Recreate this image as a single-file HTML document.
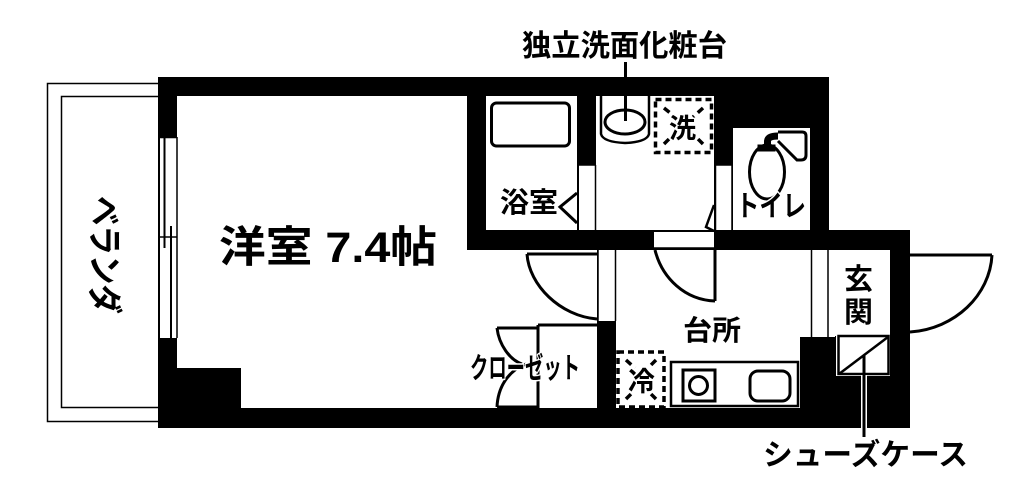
<!DOCTYPE html>
<html><head><meta charset="utf-8"><style>
html,body{margin:0;padding:0;background:#fff}
svg{display:block}
text{font-family:"Liberation Sans","Noto Sans CJK JP",sans-serif;fill:#000;font-weight:700}
.h{paint-order:stroke;stroke:#fff;stroke-width:3px;stroke-linejoin:round}
</style></head><body>
<svg width="1024" height="486" viewBox="0 0 1024 486" xmlns="http://www.w3.org/2000/svg">
<rect width="1024" height="486" fill="#fff"/>
<!-- balcony -->
<rect x="47.5" y="83.5" width="112" height="338" fill="none" stroke="#000" stroke-width="1.5"/>
<rect x="61.5" y="96.5" width="98" height="311" fill="none" stroke="#000" stroke-width="1.5"/>
<!-- walls -->
<path d="M158 77H829V230H910V428H158Z" fill="#000"/>
<!-- rooms -->
<g fill="#fff">
<path d="M177 96H467V250H597V408H241V368H177Z"/>
<rect x="486" y="96" width="91" height="134"/>
<rect x="596" y="96" width="118" height="134"/>
<rect x="733" y="128" width="77" height="102"/>
<path d="M616 250H890V336H835V337H800V408H616Z"/>
<rect x="836" y="335" width="54" height="41"/>
<!-- openings -->
<rect x="160" y="137" width="17" height="201"/>
<rect x="579" y="165" width="16" height="65"/>
<rect x="716" y="165" width="16" height="65"/>
<rect x="654" y="232" width="60" height="16"/>
<rect x="598" y="250" width="18" height="71"/>
</g>
<g fill="none" stroke="#000" stroke-width="1.5">
<!-- window -->
<path d="M159 137.500V338M177 137V338M159 137.500H177"/>
<path d="M159 237H177"/>
<path d="M164.500 138V248M171 226V338" stroke-width="2"/>
<path d="M578 165V230M595.500 165V230M579 165H595M715.500 165V230M732 165V230M716 165H732"/>
<path d="M598 250V321M615.500 250V321M654 248H714"/>
<path d="M811.500 250V337M828 250V337"/>
<g stroke-width="3">
<!-- bath -->
<rect x="491.500" y="103" width="78" height="43" rx="5"/>
<!-- bath door -->
<path d="M577 193L560 207L577 223"/>
<!-- toilet door -->
<path d="M714 205L706 227L714 231" stroke-width="2.500"/>
<!-- sink -->
<ellipse cx="625" cy="122" rx="20" ry="12"/>
<path d="M601 96V134Q603 142 625 143Q647 142 649 134V96" stroke-width="2.500"/>
<!-- toilet -->
<path d="M778 132H802Q806 132 806 136V155Q806 160 801 160H797L778 141" stroke-width="3"/>
<ellipse cx="767" cy="172" rx="17.500" ry="27"/>
<path d="M759 150V146H774V150Z" stroke-width="3" fill="#000"/>
<path d="M767.500 148V141Q768 136 778 136" stroke-width="7"/>
<!-- doors -->
<path d="M527 254H597M527 254C529 285 560 316 597 319"/>
<path d="M655 250C662 278 685 300 715 301M715 250V301" />
<path d="M910 255H992M992 255C990 295 955 329 910 332"/>
<!-- closet -->
<path d="M538 325H597M538 325V408"/>
<path d="M497 328H538M497 328C499 345 510 360 522 364"/>
<path d="M497 407H538M497 407C498 385 510 370 526 364"/>
<!-- kitchen -->
<rect x="671" y="362" width="127" height="44" stroke-width="2.500"/>
<rect x="683" y="370" width="32" height="31"/>
<circle cx="698.500" cy="385.500" r="9"/>
<rect x="750" y="371" width="40" height="30" rx="8"/>
</g>
<rect x="838.500" y="336" width="50" height="38" stroke-width="2.500"/>
<path d="M839 374L888 337" stroke-width="2.500"/>
</g>
<!-- leaders -->
<rect x="861" y="375" width="6" height="53" fill="#fff"/>
<rect x="862.500" y="355" width="3" height="82" fill="#000"/>
<rect x="624" y="62" width="3" height="59" fill="#000"/>
<!-- dashed boxes -->
<g fill="none" stroke="#000" stroke-width="3.500" stroke-dasharray="6 4">
<rect x="655.500" y="99.500" width="56" height="53"/>
<rect x="618" y="352" width="46" height="55"/>
</g>
<g fill="none" stroke="#000" stroke-width="3.500" stroke-dasharray="7 5">
<path d="M664 108L674 116M703 108L693 117M664 144L671 137M703 144L696 137"/>
<path d="M626 360L635 368M656 360L648 368M626 399L634 391M656 399L648 391"/>
</g>
<!-- labels -->
<text x="522" y="56" font-size="30" textLength="205" lengthAdjust="spacingAndGlyphs">独立洗面化粧台</text>
<text x="219" y="262" font-size="43" textLength="218" lengthAdjust="spacingAndGlyphs">洋室 7.4帖</text>
<text x="500" y="212" font-size="28" textLength="58" lengthAdjust="spacingAndGlyphs">浴室</text>
<text x="683" y="340" font-size="28" textLength="58" lengthAdjust="spacingAndGlyphs">台所</text>
<text x="669" y="138" font-size="27" class="h">洗</text>
<text x="628" y="391" font-size="27" class="h">冷</text>
<text x="736" y="216" font-size="29" textLength="70" lengthAdjust="spacingAndGlyphs" class="h">トイレ</text>
<text x="470" y="378" font-size="29" textLength="110" lengthAdjust="spacingAndGlyphs" class="h">クローゼット</text>
<text x="844" y="289" font-size="29">玄</text>
<text x="844" y="322" font-size="29">関</text>
<text x="763" y="465" font-size="30" textLength="205" lengthAdjust="spacingAndGlyphs">シューズケース</text>
<text transform="translate(92,196) rotate(90)" x="0" y="0" font-size="35" textLength="118" lengthAdjust="spacingAndGlyphs">ベランダ</text>
</svg>
</body></html>
